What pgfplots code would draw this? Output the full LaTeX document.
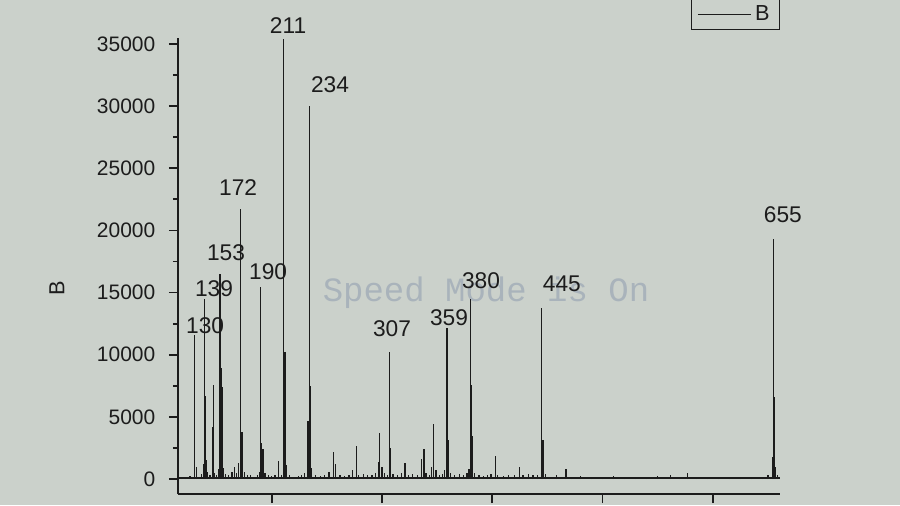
\documentclass[border=0pt]{standalone}
\usepackage{pgfplots}
\pgfplotsset{compat=1.18}
\usepackage{fontspec}
\setmainfont{Liberation Sans}
\setmonofont{Liberation Mono}
\definecolor{fondo}{HTML}{CBD1CB}
\definecolor{tinta}{HTML}{1C1C1C}
\definecolor{marca}{HTML}{A9B3BB}

% espectro: m/z, intensidad
\pgfplotstableread{
mz inten
118 150
122 200
126 250
130 11590
132 1000
136 400
138 1200
139 14460
140 6700
141 1500
142 600
144 300
146 4200
147 7600
148 500
150 350
152 800
153 16500
154 8900
155 7400
156 900
158 400
161 300
164 600
166 1000
168 500
170 1300
172 21720
173 3800
175 600
178 300
181 350
184 200
187 300
189 600
190 15470
191 2900
192 2400
194 500
197 300
200 250
203 300
206 1450
209 300
211 35400
212 10200
213 1100
216 300
220 200
224 250
227 300
230 500
233 4700
234 30010
235 7500
236 900
240 300
244 250
248 300
252 600
256 2200
258 1200
262 300
266 250
270 350
273 700
277 2650
279 300
283 400
287 350
291 300
294 500
297 1400
298 3700
300 1000
302 500
305 300
307 10220
308 2500
310 400
314 350
318 500
321 1300
324 300
328 400
332 300
336 1600
338 2400
340 500
343 300
345 1000
347 4400
349 700
352 300
355 400
357 700
359 12150
360 3100
362 500
366 300
370 400
374 300
377 500
379 800
380 14460
381 7600
382 3500
384 500
388 300
392 250
396 300
399 400
403 1850
405 300
410 250
415 300
420 350
425 1000
428 300
433 400
437 350
441 300
445 13730
446 3100
448 400
452 200
458 300
467 800
472 200
480 250
490 200
500 150
510 250
520 200
530 150
540 200
550 250
562 300
570 200
577 500
585 200
595 150
605 200
615 150
625 200
635 150
645 200
650 300
654 1800
655 19300
656 6600
657 1000
659 300
}\espectro

\begin{document}
\begin{tikzpicture}
\path[use as bounding box, clip] (0,0) rectangle (16cm,8.9778cm);
\fill[fondo] (0,0) rectangle (16cm,8.9778cm);
\node[font=\ttfamily\fontsize{17.2}{18}\selectfont, text=marca] at (8.64cm,3.769cm) {Speed Mode is On};
\begin{axis}[at={(3.1644cm,0.1956cm)}, anchor=south west, scale only axis,
 width=10.702cm, height=8.1067cm, axis lines*=left,
 xmin=115, xmax=661, ymin=-1207, ymax=35483,
 xtick={200,300,...,600}, xticklabels={},
 ytick={0,5000,...,35000}, minor y tick num=1, scaled y ticks=false,
 tick align=outside, major tick length=0.16cm, minor tick length=0.09cm,
 tick style={tinta, line width=0.9pt},
 axis line style={tinta, line width=1pt},
 /pgf/number format/assume math mode=true,
 y tick label style={font=\fontsize{10.6}{12}\selectfont, text=tinta, xshift=-0.12cm,
   /pgf/number format/1000 sep={}},
 ylabel={B}, ylabel style={at={(-0.201,0.4518)}, anchor=center, font=\fontsize{11}{12}\selectfont, text=tinta},
 clip=false,
 legend style={at={(1,1.0175)}, anchor=south east, draw=tinta, fill=none, line width=0.5pt,
   font=\fontsize{11}{12}\selectfont, text=tinta, inner ysep=1pt, inner xsep=3pt},
 legend image code/.code={\draw[tinta, line width=0.5pt] (0cm,0cm) -- (0.94cm,0cm);},
]
\addplot[ycomb, tinta, line width=0.65pt, mark=none] table[x=mz, y=inten] {\espectro};
\addlegendentry{B}
\addplot[tinta, line width=0.8pt, forget plot] coordinates {(115,80) (661,80)};
\begin{scope}[font=\fontsize{11.5}{12}\selectfont, text=tinta]
\node at (axis cs:139.6,12310) {130};
\node at (axis cs:147.7,15290) {139};
\node at (axis cs:158.6,18180) {153};
\node at (axis cs:169.5,23410) {172};
\node at (axis cs:196.7,16660) {190};
\node at (axis cs:214.8,36450) {211};
\node at (axis cs:252.9,31700) {234};
\node at (axis cs:309.1,12070) {307};
\node at (axis cs:360.8,12950) {359};
\node at (axis cs:389.8,15930) {380};
\node at (axis cs:463.2,15690) {445};
\node at (axis cs:663.6,21240) {655};
\end{scope}
\end{axis}
\end{tikzpicture}
\end{document}
